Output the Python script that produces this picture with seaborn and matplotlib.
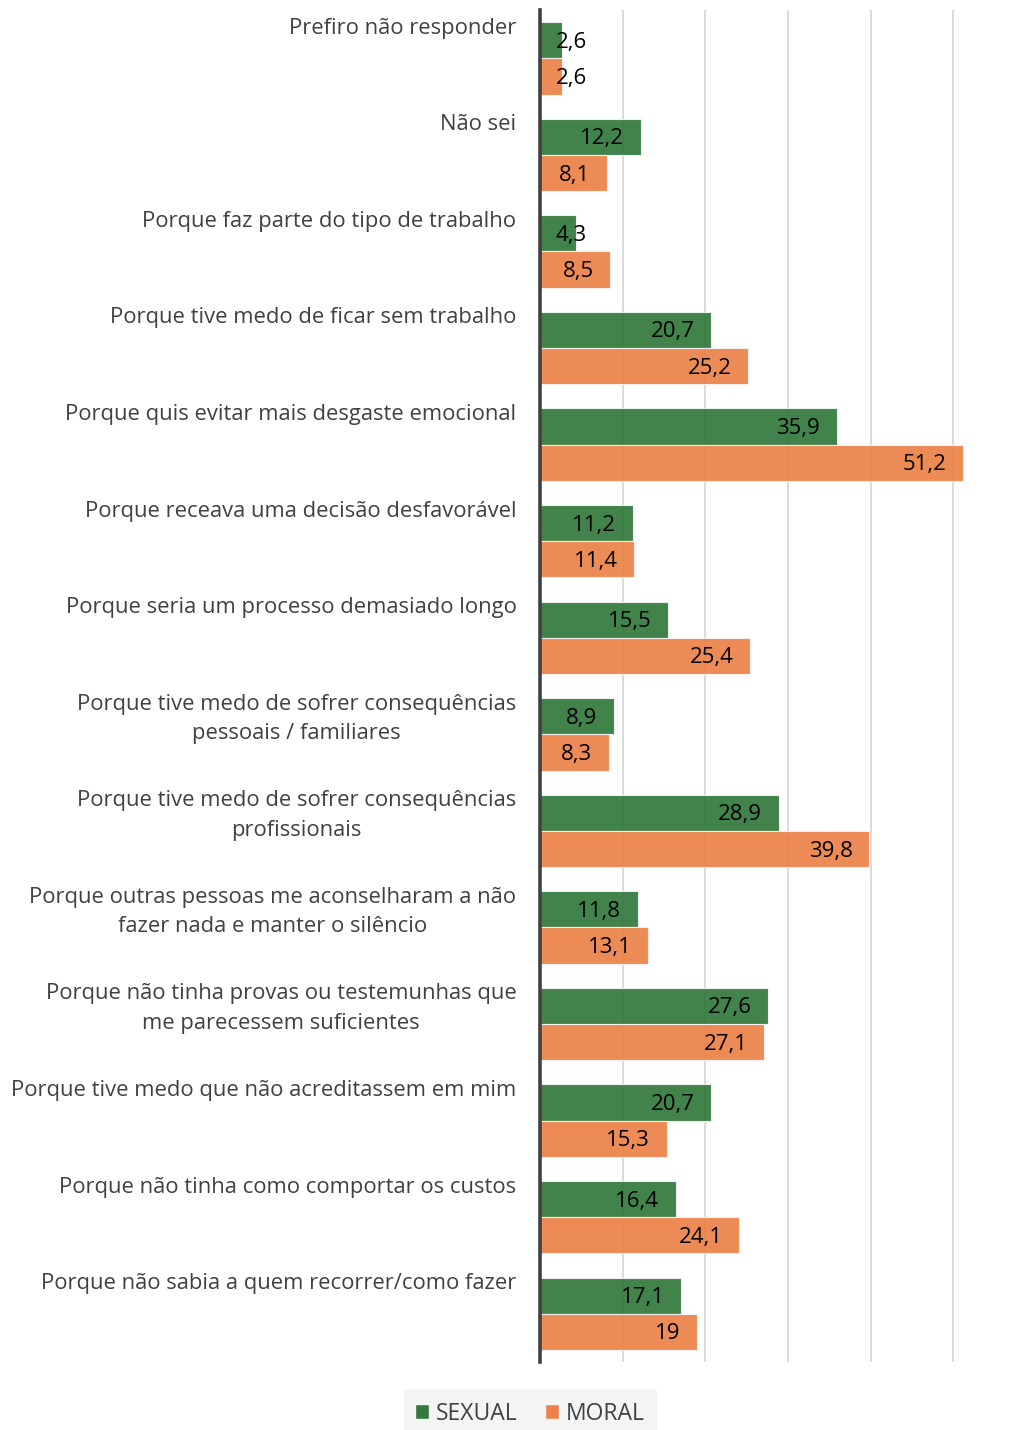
import pandas as pd
import matplotlib.pyplot as plt
import matplotlib.transforms as mtransforms
from matplotlib.patches import Patch
import seaborn as sns

# data
categories = [
    "Prefiro não responder",
    "Não sei",
    "Porque faz parte do tipo de trabalho",
    "Porque tive medo de ficar sem trabalho",
    "Porque quis evitar mais desgaste emocional",
    "Porque receava uma decisão desfavorável",
    "Porque seria um processo demasiado longo",
    "Porque tive medo de sofrer consequências\npessoais / familiares",
    "Porque tive medo de sofrer consequências\nprofissionais",
    "Porque outras pessoas me aconselharam a não\nfazer nada e manter o silêncio",
    "Porque não tinha provas ou testemunhas que\nme parecessem suficientes",
    "Porque tive medo que não acreditassem em mim",
    "Porque não tinha como comportar os custos",
    "Porque não sabia a quem recorrer/como fazer",
]
sexual = [2.6, 12.2, 4.3, 20.7, 35.9, 11.2, 15.5, 8.9, 28.9, 11.8, 27.6, 20.7, 16.4, 17.1]
moral = [2.6, 8.1, 8.5, 25.2, 51.2, 11.4, 25.4, 8.3, 39.8, 13.1, 27.1, 15.3, 24.1, 19.0]
series = ["SEXUAL", "MORAL"]

GREEN = "#327a3d"
ORANGE = "#ec8249"
TEXT = "#404040"

df = pd.DataFrame({
    "categoria": categories * 2,
    "valor": sexual + moral,
    "tipo": [series[0]] * len(categories) + [series[1]] * len(categories),
})

sns.set_theme(style="white")
plt.rcParams["font.family"] = ["Open Sans", "DejaVu Sans"]

fig = plt.figure(figsize=(10.25, 14.3), dpi=100)
ax = fig.add_axes([540 / 1025, 1 - 1362 / 1430, 430 / 1025, 1352 / 1430])

sns.barplot(data=df, x="valor", y="categoria", hue="tipo", orient="h",
            palette=[GREEN, ORANGE], saturation=1, width=0.75, alpha=0.93,
            edgecolor="#f4f4f4", linewidth=0.8, legend=False, ax=ax, zorder=2)

ax.set_xlim(0, 52)
ax.set_ylim(len(categories) - 0.5, -0.5)
ax.set_xticks([0, 10, 20, 30, 40, 50])
ax.grid(axis="x", color="#d4d4d4", linewidth=1.2, zorder=0)
ax.set_axisbelow(True)
ax.tick_params(axis="both", length=0, labelbottom=False, labelleft=False)
ax.set_xlabel("")
ax.set_ylabel("")
for s in ["top", "right", "bottom"]:
    ax.spines[s].set_visible(False)
ax.spines["left"].set_color(TEXT)
ax.spines["left"].set_linewidth(2.6)
ax.spines["left"].set_zorder(5)

# category labels, top-aligned with each group
lab_trans = mtransforms.blended_transform_factory(ax.transAxes, ax.transData)
for i, cat in enumerate(categories):
    ax.annotate(cat, xy=(0, i - 0.42), xycoords=lab_trans,
                xytext=(-17, 0), textcoords="offset points",
                ha="right", va="top", multialignment="center",
                fontsize=15.8, color=TEXT, linespacing=1.52)

# value labels near the end of each bar
for cont in ax.containers:
    for bar in cont:
        v = bar.get_width()
        y = bar.get_y() + bar.get_height() / 2
        txt = f"{v:g}".replace(".", ",")
        if v < 6:
            ax.annotate(txt, xy=(0, y), xytext=(11.5, -1.5), textcoords="offset points",
                        ha="left", va="center", fontsize=16, color="black", zorder=6)
        else:
            ax.annotate(txt, xy=(v, y), xytext=(-12, -1.5), textcoords="offset points",
                        ha="right", va="center", fontsize=16, color="black", zorder=6)

handles = [Patch(facecolor=GREEN, edgecolor="#f4f4f4", label=series[0]),
           Patch(facecolor=ORANGE, edgecolor="#f4f4f4", label=series[1])]
leg = fig.legend(handles=handles, loc="lower center", bbox_to_anchor=(0.517, -0.013),
                 ncol=2, frameon=True, fontsize=16.5, handlelength=0.6,
                 handleheight=0.6, handletextpad=0.3, columnspacing=1.2,
                 borderpad=0.5, fancybox=False)
leg.get_frame().set_facecolor("#f2f2f2")
leg.get_frame().set_edgecolor("#f2f2f2")
for t in leg.get_texts():
    t.set_color(TEXT)

fig.savefig("out.png", dpi=100)
